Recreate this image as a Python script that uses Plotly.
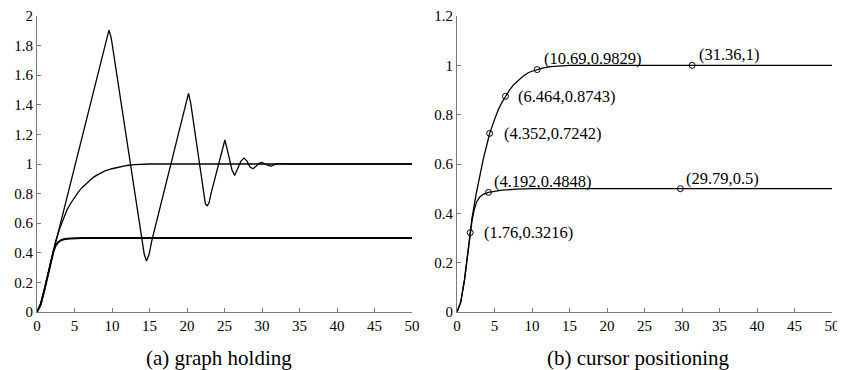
import plotly.graph_objects as go

# ---------------- data ----------------
# (a) graph holding
osc_x = [0, 0.5, 1, 1.5, 2, 9.3, 9.6, 9.9, 14.0, 14.3, 14.6, 14.95, 15.3, 19.9, 20.2, 20.5,
         22.2, 22.45, 22.7, 22.95, 23.2, 24.75, 25.05, 25.35, 26.0, 26.35, 26.7, 27.2, 27.6,
         28.0, 28.4, 28.8, 29.2, 29.6, 30.0, 30.4, 30.8, 31.2, 31.6, 32.0, 32.4, 33.0, 34.0, 50]
osc_y = [0, 0.06, 0.16, 0.27, 0.37, 1.845, 1.905, 1.85, 0.5, 0.39, 0.345, 0.39, 0.48, 1.42,
         1.477, 1.41, 0.79, 0.73, 0.718, 0.74, 0.8, 1.11, 1.162, 1.1, 0.96, 0.923, 0.96, 1.02,
         1.04, 1.02, 0.98, 0.968, 0.985, 1.005, 1.011, 1.0, 0.99, 0.986, 0.994, 1.002, 1.003,
         1.0, 1.0, 1.0]

one_x = [0, 0.5, 1, 1.5, 2, 2.5, 3, 3.5, 4, 4.5, 5, 5.5, 6, 6.5, 7, 7.5, 8, 8.5, 9, 10, 11,
         12, 13, 14, 15, 50]
one_y = [0, 0.05, 0.15, 0.26, 0.37, 0.48, 0.56, 0.63, 0.69, 0.735, 0.775, 0.81, 0.84, 0.865,
         0.89, 0.91, 0.925, 0.94, 0.952, 0.968, 0.98, 0.99, 0.996, 0.999, 1.0, 1.0]

half_x = [0, 0.5, 1, 1.5, 1.8, 2, 2.2, 2.5, 2.8, 3.2, 3.7, 4.5, 6, 50]
half_y = [0, 0.05, 0.15, 0.26, 0.33, 0.37, 0.41, 0.45, 0.47, 0.485, 0.493, 0.497, 0.5, 0.5]

# (b) cursor positioning
up_x = [0, 0.5, 1, 1.5, 1.76, 2, 2.5, 3, 3.5, 4, 4.352, 5, 5.5, 6, 6.464, 7, 7.5, 8, 8.5, 9,
        9.5, 10, 10.69, 11.5, 12.5, 13.5, 15, 31.36, 50]
up_y = [0, 0.04, 0.13, 0.26, 0.3216, 0.38, 0.47, 0.55, 0.62, 0.68, 0.7242, 0.78, 0.82, 0.85,
        0.8743, 0.9, 0.92, 0.935, 0.948, 0.96, 0.97, 0.976, 0.9829, 0.99, 0.995, 0.998, 1.0,
        1.0, 1.0]

low_x = [0, 0.5, 1, 1.5, 1.76, 2, 2.3, 2.6, 3, 3.5, 4.192, 5, 6, 8, 10, 29.79, 50]
low_y = [0, 0.04, 0.13, 0.26, 0.3216, 0.37, 0.415, 0.445, 0.465, 0.477, 0.4848, 0.49, 0.494,
         0.498, 0.5, 0.5, 0.5]

cur_x = [1.76, 4.352, 6.464, 10.69, 31.36, 4.192, 29.79]
cur_y = [0.3216, 0.7242, 0.8743, 0.9829, 1, 0.4848, 0.5]
cur_lbl = ["(1.76,0.3216)", "(4.352,0.7242)", "(6.464,0.8743)", "(10.69,0.9829)",
           "(31.36,1)", "(4.192,0.4848)", "(29.79,0.5)"]
# label offsets (px) relative to the point
cur_dx = [12, 12, 11, 5, 5, 4, 4]
cur_dy = [0, 0, 0, 11, 11, 11, 10]

x_ticks = [0, 5, 10, 15, 20, 25, 30, 35, 40, 45, 50]
x_labels = ["0", "5", "10", "15", "20", "25", "30", "35", "40", "45", "50"]
ya_ticks = [0, 0.2, 0.4, 0.6, 0.8, 1, 1.2, 1.4, 1.6, 1.8, 2]
ya_labels = ["0", "0.2", "0.4", "0.6", "0.8", "1", "1.2", "1.4", "1.6", "1.8", "2"]
yb_ticks = [0, 0.2, 0.4, 0.6, 0.8, 1, 1.2]
yb_labels = ["0", "0.2", "0.4", "0.6", "0.8", "1", "1.2"]

captions = ["(a) graph holding", "(b) cursor positioning"]

# ---------------- figure ----------------
FONT = "Times New Roman, Tinos, Liberation Serif, DejaVu Serif, serif"
OFF = 8                      # page body margin
W, H = 845 - OFF, 370 - OFF  # figure size


def px_x(p):
    return (p - OFF) / W


def px_y(p):
    return (H - (p - OFF)) / H


fig = go.Figure()

line = dict(color="black", width=1.3)
fig.add_trace(go.Scatter(x=osc_x, y=osc_y, mode="lines", line=line, xaxis="x", yaxis="y"))
fig.add_trace(go.Scatter(x=one_x, y=one_y, mode="lines", line=line, xaxis="x", yaxis="y"))
fig.add_trace(go.Scatter(x=half_x, y=half_y, mode="lines", line=dict(color="black", width=1.9),
                         xaxis="x", yaxis="y"))

fig.add_trace(go.Scatter(x=up_x, y=up_y, mode="lines", line=line, xaxis="x2", yaxis="y2"))
fig.add_trace(go.Scatter(x=low_x, y=low_y, mode="lines", line=line, xaxis="x2", yaxis="y2"))
fig.add_trace(go.Scatter(x=cur_x, y=cur_y, mode="markers",
                         marker=dict(symbol="circle-open", size=6, color="black",
                                     line=dict(width=1, color="black")),
                         xaxis="x2", yaxis="y2"))

axis_common = dict(showline=True, linecolor="#7a7a7a", linewidth=1, ticks="inside",
                   ticklen=4, tickcolor="#7a7a7a", tickwidth=1, showgrid=False,
                   zeroline=False, automargin=False,
                   tickfont=dict(family=FONT, size=15, color="black"))

fig.update_layout(
    width=W, height=H,
    margin=dict(l=0, r=0, t=0, b=0),
    paper_bgcolor="white", plot_bgcolor="white",
    showlegend=False,
    font=dict(family=FONT, color="black"),
    xaxis=dict(domain=[px_x(37), px_x(412)], range=[0, 50], tickvals=x_ticks,
               ticktext=x_labels, anchor="y", **axis_common),
    yaxis=dict(domain=[px_y(312), px_y(16)], range=[0, 2], tickvals=ya_ticks,
               ticktext=ya_labels, anchor="x", **axis_common),
    xaxis2=dict(domain=[px_x(457), px_x(832)], range=[0, 50], tickvals=x_ticks,
                ticktext=x_labels, anchor="y2", **axis_common),
    yaxis2=dict(domain=[px_y(312), px_y(16)], range=[0, 1.2], tickvals=yb_ticks,
                ticktext=yb_labels, anchor="x2", **axis_common),
)

for x, y, t, dx, dy in zip(cur_x, cur_y, cur_lbl, cur_dx, cur_dy):
    fig.add_annotation(x=x, y=y, xref="x2", yref="y2", text=t, showarrow=False,
                       xanchor="left", yanchor="middle", xshift=dx, yshift=dy,
                       font=dict(family=FONT, size=16.5, color="black"))

cap_x = [219, 638]
for cx, t in zip(cap_x, captions):
    fig.add_annotation(x=px_x(cx), y=px_y(358), xref="paper", yref="paper", text=t,
                       showarrow=False, xanchor="center", yanchor="middle",
                       font=dict(family=FONT, size=21, color="black"))

fig.write_html("out.html")
